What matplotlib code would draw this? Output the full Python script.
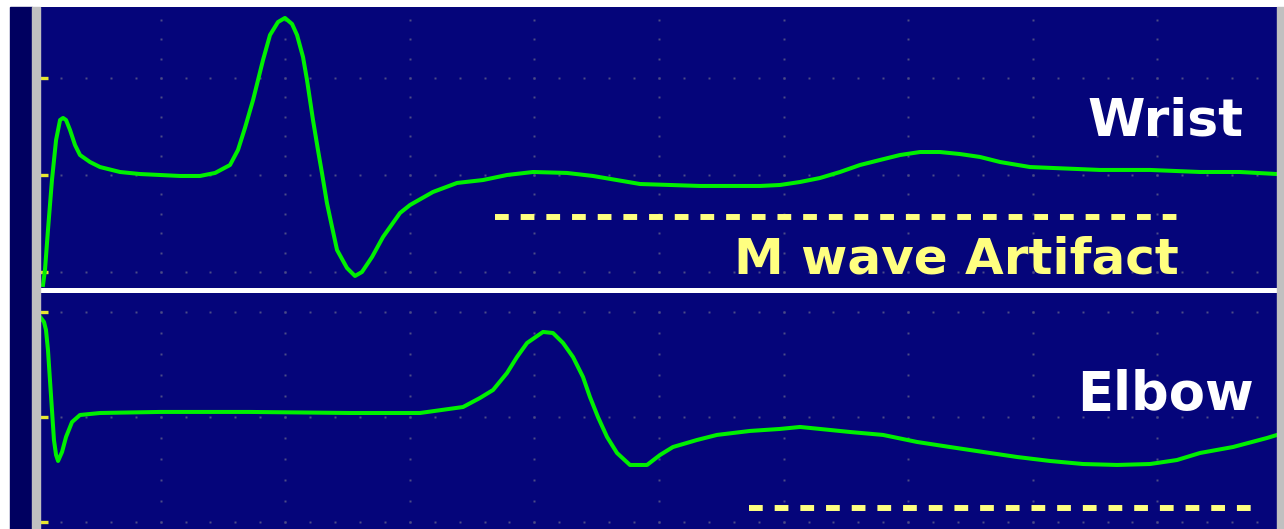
import numpy as np
import matplotlib
matplotlib.use('Agg')
import matplotlib.pyplot as plt
from matplotlib.patches import Rectangle

# time in divisions (1 div per grid square), amplitude in divisions
wrist_t = [0.056, 0.072, 0.096, 0.128, 0.161, 0.193, 0.217, 0.241, 0.273, 0.313,
           0.353, 0.433, 0.514, 0.674, 0.835, 0.995, 1.156, 1.316, 1.437, 1.557,
           1.621, 1.677, 1.742, 1.822, 1.878, 1.942, 1.998, 2.055, 2.095, 2.143,
           2.175, 2.223, 2.263, 2.295, 2.335, 2.376, 2.416, 2.496, 2.560, 2.616,
           2.697, 2.785, 2.921, 3.002, 3.186, 3.379, 3.587, 3.780, 3.989, 4.262,
           4.470, 4.848, 5.329, 5.811, 5.971, 6.132, 6.292, 6.453, 6.613, 6.774,
           6.934, 7.095, 7.255, 7.416, 7.576, 7.737, 7.978, 8.355, 8.539, 8.941,
           9.342, 9.663, 9.960]
wrist_amp = [-1.134, -0.979, -0.567, -0.052, 0.361, 0.567, 0.588, 0.567, 0.464, 0.309,
             0.206, 0.134, 0.082, 0.031, 0.010, 0.000, -0.010, -0.010, 0.021, 0.103,
             0.258, 0.485, 0.773, 1.186, 1.443, 1.577, 1.619, 1.557, 1.443, 1.216,
             0.979, 0.567, 0.258, 0.021, -0.289, -0.536, -0.773, -0.959, -1.041, -1.000,
             -0.845, -0.639, -0.392, -0.309, -0.175, -0.082, -0.052, 0.000, 0.031, 0.021,
             -0.010, -0.093, -0.113, -0.113, -0.103, -0.072, -0.031, 0.031, 0.103, 0.155,
             0.206, 0.237, 0.237, 0.216, 0.186, 0.134, 0.082, 0.062, 0.052, 0.052,
             0.031, 0.031, 0.010]

elbow_t = [0.040, 0.064, 0.080, 0.096, 0.112, 0.128, 0.144, 0.161, 0.177, 0.209,
           0.241, 0.289, 0.353, 0.514, 0.995, 1.717, 2.520, 3.082, 3.427, 3.563,
           3.668, 3.780, 3.860, 3.941, 4.069, 4.149, 4.230, 4.310, 4.390, 4.446,
           4.510, 4.583, 4.663, 4.767, 4.904, 5.008, 5.112, 5.305, 5.465, 5.730,
           5.971, 6.132, 6.292, 6.533, 6.798, 7.071, 7.335, 7.600, 7.873, 8.138,
           8.403, 8.676, 8.941, 9.157, 9.342, 9.607, 9.880, 9.960]
elbow_amp = [0.943, 0.905, 0.829, 0.638, 0.352, 0.067, -0.219, -0.362, -0.419, -0.333,
             -0.190, -0.048, 0.019, 0.038, 0.048, 0.048, 0.038, 0.038, 0.095, 0.181,
             0.257, 0.419, 0.571, 0.705, 0.810, 0.800, 0.705, 0.571, 0.381, 0.190,
             0.000, -0.190, -0.343, -0.457, -0.457, -0.362, -0.286, -0.219, -0.171, -0.133,
             -0.114, -0.095, -0.114, -0.143, -0.171, -0.238, -0.286, -0.333, -0.381, -0.419,
             -0.448, -0.457, -0.448, -0.410, -0.343, -0.286, -0.200, -0.171]

# dashed artifact markers: (start, end, level)
artifact_wrist = (3.684, 9.222, -0.433)
artifact_elbow = (5.722, 9.807, -0.867)

labels = ['Wrist', 'Elbow']
artifact_label = 'M wave Artifact'

BG = '#05057a'
GREEN = '#00f000'
YELLOW = '#ffff80'
DOT = '#4c4c86'

W, H = 1284, 529
fig = plt.figure(figsize=(W / 100, H / 100), dpi=100)
fig.patch.set_facecolor('white')


def fx(px):
    return px / W


def fy(py):
    return 1 - py / H


# left dark strip and grey bars
fig.patches.append(Rectangle((fx(10), 0), fx(32) - fx(10), fy(7), color='#000060',
                             transform=fig.transFigure, zorder=0))
fig.patches.append(Rectangle((fx(32), 0), fx(40) - fx(32), fy(7), color='#c0c0c0',
                             transform=fig.transFigure, zorder=0))
fig.patches.append(Rectangle((fx(1277), 0), fx(1284) - fx(1277), fy(7), color='#c0c0c0',
                             transform=fig.transFigure, zorder=0))

ax1 = fig.add_axes([fx(40), fy(288), fx(1277) - fx(40), fy(7) - fy(288)])
ax2 = fig.add_axes([fx(40), fy(529), fx(1277) - fx(40), fy(293) - fy(529)])
ax1.set_ylim(-1.165, 1.732)
ax2.set_ylim(-1.067, 1.181)

for ax in (ax1, ax2):
    ax.set_facecolor(BG)
    ax.set_xlim(0.032, 9.96)
    for s in ax.spines.values():
        s.set_visible(False)
    ax.set_xticks([])
    ax.set_yticks([-1, 0, 1])
    ax.set_yticklabels([])
    ax.tick_params(axis='y', direction='in', length=6, width=2.4, color='#e8e830')
    # dotted graticule
    lo, hi = ax.get_ylim()
    ys = np.arange(np.ceil(lo / 0.2) * 0.2, hi, 0.2)
    for gx in range(1, 10):
        ax.plot(np.full(len(ys), gx), ys, ls='none', marker='s', ms=2.1,
                mfc=DOT, mec='none', zorder=1)
    xs = np.arange(0.2, 10, 0.2)
    for gy in (-1, 0, 1):
        ax.plot(xs, np.full(len(xs), gy), ls='none', marker='s', ms=2.1,
                mfc=DOT, mec='none', zorder=1)

ax1.plot(wrist_t, wrist_amp, color=GREEN, lw=2.9, solid_joinstyle='round', zorder=3)
ax2.plot(elbow_t, elbow_amp, color=GREEN, lw=2.9, solid_joinstyle='round', zorder=3)

for ax, art in ((ax1, artifact_wrist), (ax2, artifact_elbow)):
    ax.plot([art[0], art[1]], [art[2], art[2]], color=YELLOW, lw=4.3,
            dashes=(2.3, 2.0), dash_capstyle='butt', zorder=2)

fig.text(fx(1166), fy(135), labels[0], color='white', fontsize=37.5,
         fontweight='bold', family='DejaVu Sans', ha='center', va='baseline')
fig.text(fx(1165), fy(410), labels[1], color='white', fontsize=38,
         fontweight='bold', family='DejaVu Sans', ha='center', va='baseline')
fig.text(fx(956), fy(273), artifact_label, color=YELLOW, fontsize=36,
         fontweight='bold', family='DejaVu Sans', ha='center', va='baseline')

fig.savefig('out.png', dpi=100, facecolor='white')
